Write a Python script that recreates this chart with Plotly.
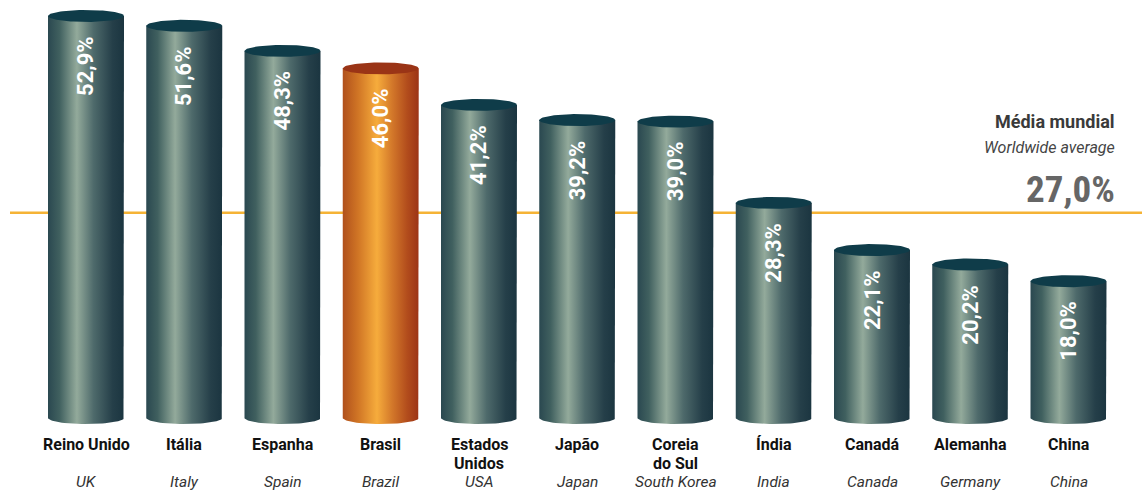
import numpy as np
import plotly.graph_objects as go

countries_pt = ["Reino Unido", "Itália", "Espanha", "Brasil", "Estados<br>Unidos", "Japão",
                "Coreia<br>do Sul", "Índia", "Canadá", "Alemanha", "China"]
countries_en = ["UK", "Italy", "Spain", "Brazil", "USA", "Japan",
                "South Korea", "India", "Canada", "Germany", "China"]
values = [52.9, 51.6, 48.3, 46.0, 41.2, 39.2, 39.0, 28.3, 22.1, 20.2, 18.0]
value_labels = ["52,9%", "51,6%", "48,3%", "46,0%", "41,2%", "39,2%", "39,0%",
                "28,3%", "22,1%", "20,2%", "18,0%"]
highlight = "Brasil"
world_avg = 27.0
world_avg_label = "27,0%"

FONT = "Roboto"
NARROW = "Liberation Sans Narrow, Roboto Condensed, Roboto"
W, H = 1142, 491
# pixel geometry helpers (plot area == full figure)
px_per_unit = 7.6
zero_px = 418
x0_px, step_px = 86, 98.25
y_range = [(zero_px - H) / px_per_unit, zero_px / px_per_unit]
x_range = [-x0_px / step_px, (W - x0_px) / step_px]

half_w = 38 / step_px
ell_h = 6 / px_per_unit

teal_scale = [[0, "#2a4850"], [0.15, "#40605f"], [0.38, "#93aa9b"], [0.6, "#4e6a6b"],
              [0.85, "#253f49"], [1, "#1b3540"]]
orange_scale = [[0, "#b0501c"], [0.2, "#d07525"], [0.45, "#f6ac3c"], [0.65, "#d3782a"],
                [0.85, "#b24c1c"], [1, "#9c3416"]]
teal_top = "#0f3c49"
orange_top = "#9a3416"

fig = go.Figure()
t_half = np.linspace(0, np.pi, 40)
t_full = np.linspace(0, 2 * np.pi, 80)

for i, (name, v) in enumerate(zip(countries_pt, values)):
    is_hl = name == highlight
    xs = np.concatenate([[i - half_w, i - half_w, i + half_w, i + half_w],
                         i + half_w * np.cos(t_half)])
    ys = np.concatenate([[0, v, v, 0], -ell_h * np.sin(t_half)])
    fig.add_trace(go.Scatter(
        x=xs, y=ys, mode="lines", fill="toself", line=dict(width=0),
        fillgradient=dict(type="horizontal", colorscale=orange_scale if is_hl else teal_scale),
        hoverinfo="skip", showlegend=False))
    fig.add_trace(go.Scatter(
        x=i + half_w * np.cos(t_full), y=v + ell_h * np.sin(t_full),
        mode="lines", fill="toself", line=dict(width=0),
        fillcolor=orange_top if is_hl else teal_top,
        hoverinfo="skip", showlegend=False))

annotations = []
for i, (v, lab) in enumerate(zip(values, value_labels)):
    annotations.append(dict(x=i, y=v - 50 / px_per_unit, xref="x", yref="y", text=lab,
                            textangle=-90, showarrow=False, xanchor="center", yanchor="middle",
                            font=dict(family=FONT, size=22, color="white", weight="bold")))
line_px = [444, 463]
for i, (pt, en) in enumerate(zip(countries_pt, countries_en)):
    for k, line in enumerate(pt.split("<br>")):
        annotations.append(dict(x=i, y=(zero_px - line_px[k]) / px_per_unit, xref="x", yref="y",
                                text=line, showarrow=False, xanchor="center", yanchor="middle",
                                borderpad=0,
                                font=dict(family=FONT, size=16, color="#111111", weight="bold")))
    annotations.append(dict(x=i, y=(zero_px - 482) / px_per_unit, xref="x", yref="y",
                            text="<i>" + en + "</i>", borderpad=0,
                            showarrow=False, xanchor="center", yanchor="middle",
                            font=dict(family=FONT, size=15.5, color="#333333")))

rx = 1117 / W
annotations += [
    dict(x=rx, y=1 - 122 / H, xref="paper", yref="paper", text="Média mundial",
         showarrow=False, xanchor="right", yanchor="middle",
         font=dict(family=FONT, size=18, color="#3a3a3a", weight="bold")),
    dict(x=rx, y=1 - 147 / H, xref="paper", yref="paper", text="<i>Worldwide average</i>",
         showarrow=False, xanchor="right", yanchor="middle",
         font=dict(family=FONT, size=16, color="#444444")),
    dict(x=rx, y=1 - 189 / H, xref="paper", yref="paper", text=world_avg_label,
         showarrow=False, xanchor="right", yanchor="middle",
         font=dict(family=NARROW, size=37, color="#666666", weight="bold")),
]

fig.add_shape(type="line", xref="paper", yref="y", x0=10 / W, x1=1, y0=world_avg, y1=world_avg,
              line=dict(color="#f5b335", width=2.5), layer="below")

fig.update_layout(
    width=W, height=H, margin=dict(l=0, r=0, t=0, b=0),
    paper_bgcolor="white", plot_bgcolor="white",
    xaxis=dict(range=x_range, visible=False, fixedrange=True),
    yaxis=dict(range=y_range, visible=False, fixedrange=True),
    annotations=annotations, showlegend=False, hovermode=False,
)
fig.write_html("out.html", config={"displayModeBar": False},
               post_script="document.body.style.margin='0px';document.body.style.overflow='hidden';")
